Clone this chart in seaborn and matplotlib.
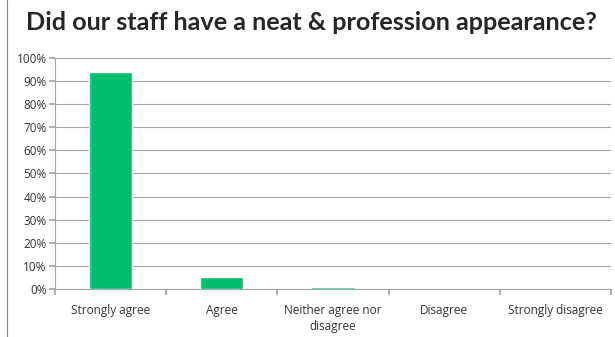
import matplotlib
matplotlib.use("Agg")
import matplotlib.pyplot as plt
import seaborn as sns
import pandas as pd
from matplotlib.lines import Line2D
from matplotlib.ticker import FuncFormatter, MultipleLocator

categories = ["Strongly agree", "Agree", "Neither agree nor\ndisagree", "Disagree", "Strongly disagree"]
values = [0.94, 0.05, 0.007, 0.0, 0.0]
title = "Did our staff have a neat & profession appearance?"

df = pd.DataFrame({"category": categories, "value": values})

sns.set_theme(style="white")
plt.rcParams["font.family"] = ["Open Sans", "DejaVu Sans"]

fig = plt.figure(figsize=(6.15, 3.37), dpi=100)
ax = fig.add_axes([55/615, 1 - 289/337, (611-55)/615, (289-58)/337])

sns.barplot(data=df, x="category", y="value", color="#00BF6F", width=0.39,
            saturation=1, ax=ax, zorder=3)

ax.set_ylim(0, 1.0)
ax.set_xlim(-0.5, 4.5)
ax.yaxis.set_major_locator(MultipleLocator(0.1))
ax.yaxis.set_major_formatter(FuncFormatter(lambda v, p: f"{int(round(v*100))}%"))
ax.grid(axis="y", color="#A6A6A6", linewidth=0.8, zorder=0)
ax.set_axisbelow(True)
ax.set_xlabel("")
ax.set_ylabel("")

for s in ["top", "right"]:
    ax.spines[s].set_visible(False)
ax.spines["left"].set_color("#A6A6A6")
ax.spines["bottom"].set_color("#A6A6A6")
ax.spines["left"].set_linewidth(0.8)
ax.spines["bottom"].set_linewidth(0.8)

ax.set_xticks([-0.5, 0.5, 1.5, 2.5, 3.5, 4.5], minor=False)
ax.set_xticklabels([])
ax.set_xticks(range(5), minor=True)
ax.set_xticklabels(categories, minor=True, fontsize=8.5, color="#333333", linespacing=1.3)
ax.tick_params(axis="x", which="major", length=4, color="#A6A6A6", bottom=True)
ax.tick_params(axis="x", which="minor", length=0, pad=11)
ax.tick_params(axis="y", length=4, color="#A6A6A6", left=True, labelsize=8.5, labelcolor="#333333", pad=2)

fig.text(311/615, 1 - 23/337, title, ha="center", va="center",
         fontsize=18.2, fontweight="bold", color="#262626", family=["Lato", "DejaVu Sans"])

fig.add_artist(Line2D([7/615, 7/615], [0, 1], color="#888888", linewidth=0.8))

fig.savefig("out.png", dpi=100)
